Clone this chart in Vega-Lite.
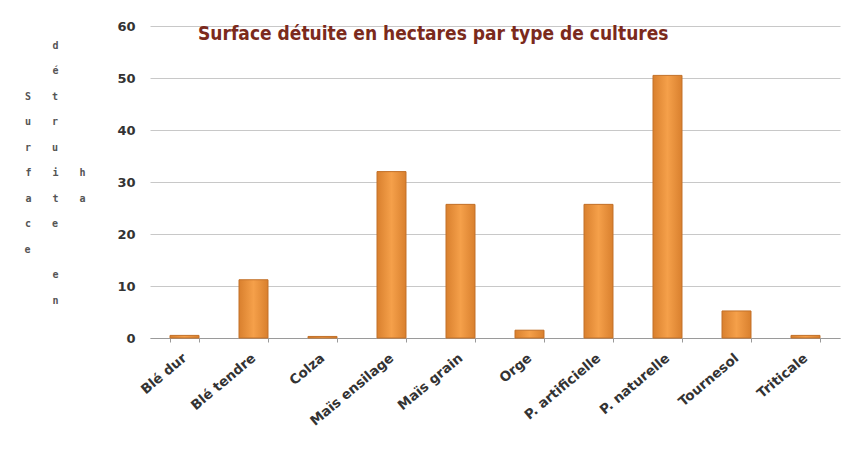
{
  "$schema": "https://vega.github.io/schema/vega-lite/v6.json",
  "width": 690,
  "height": 312,
  "autosize": {"type": "none"},
  "padding": {"left": 150, "top": 26, "right": 4, "bottom": 112},
  "background": "white",
  "title": {
    "text": "Surface détuite en hectares par type de cultures",
    "anchor": "start",
    "frame": "group",
    "dx": 48,
    "offset": -33,
    "baseline": "middle",
    "font": "Liberation Sans Narrow, DejaVu Sans Condensed, Roboto Condensed, Roboto, sans-serif",
    "fontSize": 19,
    "fontWeight": "bold",
    "color": "#7B2A1C"
  },
  "data": {
    "values": [
      {"culture": "Blé dur", "surface": 0.5},
      {"culture": "Blé tendre", "surface": 11.2},
      {"culture": "Colza", "surface": 0.3},
      {"culture": "Maïs ensilage", "surface": 32},
      {"culture": "Maïs grain", "surface": 25.7},
      {"culture": "Orge", "surface": 1.5},
      {"culture": "P. artificielle", "surface": 25.7},
      {"culture": "P. naturelle", "surface": 50.5},
      {"culture": "Tournesol", "surface": 5.2},
      {"culture": "Triticale", "surface": 0.5}
    ]
  },
  "mark": {
    "type": "bar",
    "fill": {
      "gradient": "linear", "x1": 0, "x2": 1, "y1": 0, "y2": 0,
      "stops": [
        {"offset": 0, "color": "#D9802E"},
        {"offset": 0.5, "color": "#F5A04A"},
        {"offset": 1, "color": "#D9802E"}
      ]
    },
    "stroke": "#C27028",
    "strokeWidth": 1
  },
  "encoding": {
    "x": {
      "field": "culture",
      "type": "nominal",
      "sort": null,
      "scale": {"paddingInner": 0.58, "paddingOuter": 0.29},
      "axis": {
        "title": null,
        "labelAngle": -40,
        "labelAlign": "right",
        "labelBaseline": "middle",
        "labelFont": "DejaVu Sans",
        "labelFontSize": 13.5,
        "labelFontWeight": "bold",
        "labelColor": "#333333",
        "labelPadding": 14,
        "domainColor": "#9a9a9a",
        "tickColor": "#9a9a9a",
        "tickBand": "extent",
        "tickSize": 4,
        "grid": false
      }
    },
    "y": {
      "field": "surface",
      "type": "quantitative",
      "scale": {"domain": [0, 60], "nice": false},
      "axis": {
        "values": [0, 10, 20, 30, 40, 50, 60],
        "domain": false,
        "ticks": false,
        "grid": true,
        "gridColor": "#c8c8c8",
        "labelFont": "DejaVu Sans",
        "labelFontSize": 13,
        "labelFontWeight": "bold",
        "labelColor": "#333333",
        "labelPadding": 15,
        "title": [
          "\u2800\u2800\u2800\u2800d\u2800\u2800\u2800\u2800",
          "\u2800\u2800\u2800\u2800é\u2800\u2800\u2800\u2800",
          "S\u2800\u2800\u2800t\u2800\u2800\u2800\u2800",
          "u\u2800\u2800\u2800r\u2800\u2800\u2800\u2800",
          "r\u2800\u2800\u2800u\u2800\u2800\u2800\u2800",
          "f\u2800\u2800\u2800i\u2800\u2800\u2800h",
          "a\u2800\u2800\u2800t\u2800\u2800\u2800a",
          "c\u2800\u2800\u2800e\u2800\u2800\u2800\u2800",
          "e\u2800\u2800\u2800\u2800\u2800\u2800\u2800\u2800",
          "\u2800\u2800\u2800\u2800e\u2800\u2800\u2800\u2800",
          "\u2800\u2800\u2800\u2800n\u2800\u2800\u2800\u2800"
        ],
        "titleAngle": 0,
        "titleAlign": "center",
        "titleBaseline": "top",
        "titleX": -95,
        "titleY": 14,
        "titleFont": "DejaVu Sans Mono",
        "titleFontSize": 10,
        "titleFontWeight": "bold",
        "titleColor": "#555555",
        "titleLineHeight": 25.5
      }
    }
  },
  "config": {"view": {"stroke": null}}
}
